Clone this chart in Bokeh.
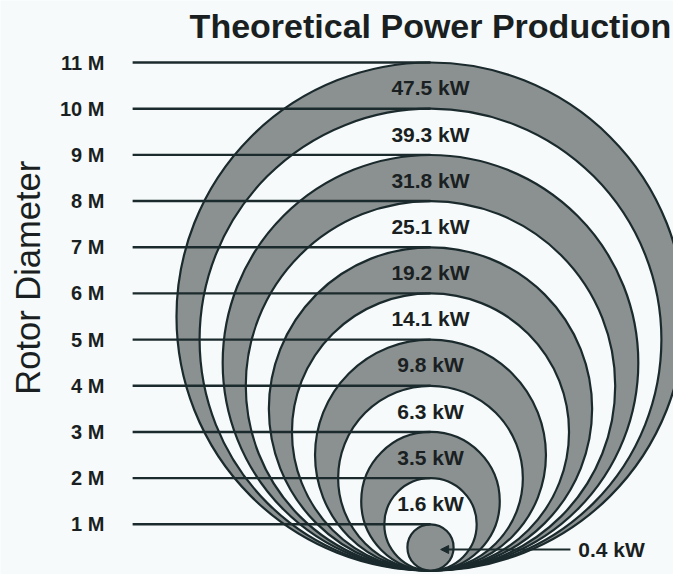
from bokeh.plotting import figure
from bokeh.models import Range1d, Arrow, NormalHead, ColumnDataSource
from bokeh.core.properties import value
from bokeh.embed import file_html
from bokeh.resources import INLINE
import math

# ---- data ----
diameters_m = [11, 10, 9, 8, 7, 6, 5, 4, 3, 2, 1]
tick_labels = ["11 M", "10 M", "9 M", "8 M", "7 M", "6 M", "5 M", "4 M", "3 M", "2 M", "1 M"]
power_kw = [47.5, 39.3, 31.8, 25.1, 19.2, 14.1, 9.8, 6.3, 3.5, 1.6, 0.4]
power_labels = ["47.5 kW", "39.3 kW", "31.8 kW", "25.1 kW", "19.2 kW", "14.1 kW",
                "9.8 kW", "6.3 kW", "3.5 kW", "1.6 kW", "0.4 kW"]
chart_title = "Theoretical Power Production"
axis_title = "Rotor Diameter"

# ---- style ----
GRAY = "#8b9191"
BG = "#f6fafb"
INK = "#1b2a2d"
TXT = "#1a1f22"
FONT = "Liberation Sans"

W, H = 673, 574
p = figure(width=W, height=H, output_backend="svg", toolbar_location=None,
           x_range=Range1d(-9.311, 5.262), y_range=Range1d(-0.0866, 12.343),
           x_axis_location=None, y_axis_location=None, min_border=0)
p.grid.visible = False
p.outline_line_color = None
p.background_fill_color = BG
p.border_fill_color = BG

# nested circles, all tangent at the bottom point (0, 0)
fills = [GRAY if d % 2 == 1 else BG for d in diameters_m]
circ = ColumnDataSource(dict(x=[0.0] * len(diameters_m),
                             y=[d / 2 for d in diameters_m],
                             r=[d / 2 for d in diameters_m],
                             fill=fills))
p.circle(x="x", y="y", radius="r", source=circ, fill_color="fill",
         line_color=INK, line_width=2.2)

# leader lines from each tick label to the top of its circle
p.segment(x0=[-6.45] * len(diameters_m), y0=diameters_m,
          x1=[0.0] * len(diameters_m), y1=diameters_m,
          line_color=INK, line_width=2.4)

# tick labels
p.text(x=[-7.06] * len(diameters_m), y=diameters_m, text=tick_labels,
       text_font=value(FONT), text_font_style="bold", text_font_size="20px",
       text_color=TXT, text_align="right", text_baseline="middle")

# power labels inside bands (all but the innermost)
band_y = [d - 0.55 for d in diameters_m[:-1]]
p.text(x=[0.0] * len(band_y), y=band_y, text=power_labels[:-1],
       text_font=value(FONT), text_font_style="bold", text_font_size="21px",
       text_color=TXT, text_align="center", text_baseline="middle")

# innermost value with pointer
y_in = 0.455
p.add_layout(Arrow(x_start=3.03, y_start=y_in, x_end=0.22, y_end=y_in,
                   line_color=INK, line_width=2.2,
                   end=NormalHead(size=8, fill_color=INK, line_color=INK)))
p.text(x=[3.2], y=[y_in], text=[power_labels[-1]],
       text_font=value(FONT), text_font_style="bold", text_font_size="21px",
       text_color=TXT, text_align="left", text_baseline="middle")

# title
p.text(x=[0.0], y=[11.80], text=[chart_title],
       text_font=value(FONT), text_font_style="bold", text_font_size="34px",
       text_color=TXT, text_align="center", text_baseline="middle")

# rotated axis title
p.text(x=[-8.705], y=[6.34], text=[axis_title], angle=math.pi / 2,
       text_font=value(FONT), text_font_size="34.5px",
       text_color=TXT, text_align="center", text_baseline="middle")

open("out.html", "w").write(file_html(p, INLINE))
